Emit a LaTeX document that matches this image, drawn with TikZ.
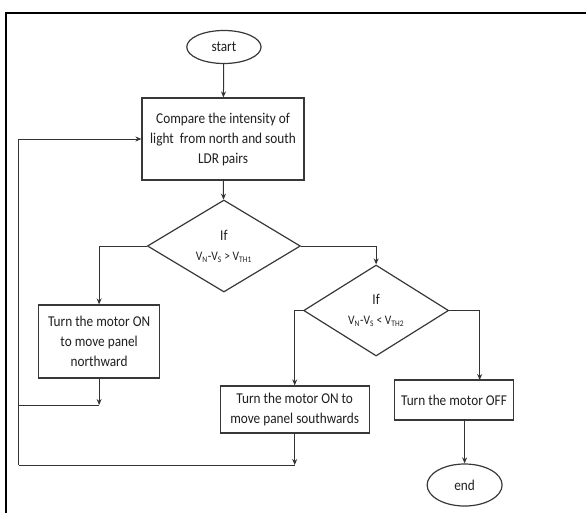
\documentclass[tikz,border=0pt]{standalone}
\usepackage{fontspec}
\setmainfont{Carlito}[FakeStretch=0.885]
\usetikzlibrary{shapes.geometric,arrows.meta}
\tikzset{
  shp/.style={draw=black!78, line width=1.2pt, text=black!88, inner sep=0pt, align=center, font=\fontsize{15}{20}\selectfont},
  boxn/.style={shp, rectangle},
  term/.style={shp, ellipse},
  dec/.style={shp, diamond, font=\fontsize{13}{20}\selectfont},
  conn/.style={draw=black!80, line width=1pt},
  arr/.style={conn, -{Stealth[length=6pt,width=5pt]}},
}
\newcommand{\sbs}[1]{\textsubscript{\fontsize{8.5}{8.5}\selectfont #1}}
\newcommand{\iftxt}{{\fontsize{15}{15}\selectfont If}}
\begin{document}
\begin{tikzpicture}[x=0.885pt,y=-1pt]
\useasboundingbox (0,0) rectangle (662.15,512);
\draw[line width=2pt, black] (6.5,520) -- (6.5,12.5) -- (670,12.5);

\node[term, minimum width=74.3pt, minimum height=33pt] (start) at (253,47) {start};
\node[boxn, minimum width=162pt, minimum height=82pt] (cmp) at (252,139) {Compare the intensity of\\light\ \ from north and south\\LDR pairs};
\node[dec, minimum width=153pt, minimum height=92pt] (d1) at (253,246) {\iftxt\\V\sbs{N}-V\sbs{S} > V\sbs{TH1}};
\node[boxn, minimum width=121pt, minimum height=73pt] (bn) at (112,341.5) {Turn the motor ON\\to move panel\\northward};
\node[dec, minimum width=145pt, minimum height=91pt] (d2) at (425,310.5) {\iftxt\\V\sbs{N}-V\sbs{S} < V\sbs{TH2}};
\node[boxn, minimum width=149pt, minimum height=47pt] (bs) at (333,409.5) {Turn the motor ON to\\move panel southwards};
\node[boxn, minimum width=119pt, minimum height=40pt] (boff) at (513,400) {Turn the motor OFF};
\node[term, minimum width=75pt, minimum height=42pt] (end) at (525,485) {end};

\coordinate (fbA) at (21,465);
\coordinate (fbB) at (21,405);
\coordinate (offin) at (542,380);

\draw[arr] (start) -- (cmp);
\draw[arr] (cmp) -- (d1);
\draw[arr] (d1.west) -| (bn.north);
\draw[arr] (d1.east) -| (d2.north);
\draw[arr] (d2.west) -| (bs.north);
\draw[arr] (d2.east) -| (offin);
\draw[arr] (boff.south -| end.north) -- (end.north);
\draw[arr] (bn.south) -- (bn.south |- fbB);
\draw[arr] (bs.south) -- (bs.south |- fbA);
\draw[conn] (fbB) -- (bn.south |- fbB);
\draw[conn] (bs.south |- fbA) -- (fbA);
\draw[arr] (fbA) |- (cmp.west);
\end{tikzpicture}
\end{document}
